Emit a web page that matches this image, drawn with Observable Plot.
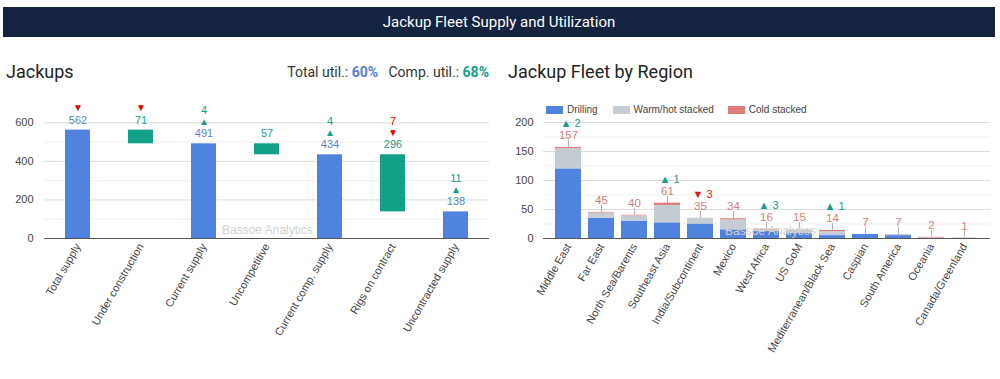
<!DOCTYPE html>
<html><head><meta charset="utf-8">
<script src="https://cdn.jsdelivr.net/npm/d3@7"></script>
<script src="https://cdn.jsdelivr.net/npm/@observablehq/plot@0.6"></script>
<style>
body{margin:0;width:1000px;height:379px;background:#fff;position:relative;overflow:hidden;font-family:Roboto,"Liberation Sans",Arial,sans-serif;}
.abs{position:absolute;}
#banner{left:3px;top:7px;width:992px;height:30px;background:#14233f;color:#fff;font-size:15px;text-align:center;line-height:30px;}
.title{font-size:18px;color:#222;}
#util{font-size:14px;color:#333;right:511px;top:64px;white-space:nowrap;}
.leg{font-family:"Liberation Sans",Arial,sans-serif;font-size:10px;color:#444;top:104px;display:flex;align-items:center;white-space:nowrap;}
.sw{display:inline-block;width:17px;height:8px;margin-right:4px;}
.wm{font-family:"Liberation Sans",Arial,sans-serif;font-size:12px;color:#d0d0d0;white-space:nowrap;}
</style></head>
<body>
<div id="banner" class="abs">Jackup Fleet Supply and Utilization</div>
<div class="abs title" style="left:6px;top:61px;">Jackups</div>
<div id="util" class="abs">Total util.: <b style="color:#4f80d9">60%</b>&nbsp;&nbsp;&nbsp;Comp. util.: <b style="color:#14a088">68%</b></div>
<div class="abs title" style="left:508px;top:61px;">Jackup Fleet by Region</div>
<div id="left" class="abs" style="left:0;top:90px;"></div>
<div id="right" class="abs" style="left:500px;top:90px;"></div>
<div class="abs leg" style="left:546px;">
 <span class="sw" style="background:#5083df"></span><span style="margin-right:15px">Drilling</span>
 <span class="sw" style="background:#c6ccd4"></span><span style="margin-right:14px">Warm/hot stacked</span>
 <span class="sw" style="background:#e07b7b"></span><span>Cold stacked</span>
</div>
<div class="abs wm" style="left:222px;top:223px;">Bassoe Analytics</div>
<div class="abs wm" style="left:725px;top:224px;">Bassoe Analytics</div>
<script>
// ---- Left chart data ----
const supplyCats = ["Total supply","Under construction","Current supply","Uncompetitive","Current comp. supply","Rigs on contract","Uncontracted supply"];
const supplyLow  = [0, 491, 0, 434, 0, 138, 0];
const supplyHigh = [562, 562, 491, 491, 434, 434, 138];
const supplyValues = [562, 71, 491, 57, 434, 296, 138];
const supplyKind = ["total","change","total","change","total","change","total"];
const supplyDeltaDir = ["down","down","up",null,"up","down","up"];
const supplyDeltaVal = ["","","4","","4","7","11"];

// ---- Right chart data ----
const regions = ["Middle East","Far East","North Sea/Barents","Southeast Asia","India/Subcontinent","Mexico","West Africa","US GoM","Mediterranean/Black Sea","Caspian","South America","Oceania","Canada/Greenland"];
const drilling = [120, 35, 30, 27, 25, 15, 12, 9, 5, 7, 5, 0, 0];
const warmHot  = [35, 9, 9, 30, 10, 17, 3, 6, 7, 0, 2, 1, 1];
const coldStacked = [2, 1, 1, 4, 0, 2, 1, 0, 2, 0, 0, 1, 0];
const regionTotals = [157, 45, 40, 61, 35, 34, 16, 15, 14, 7, 7, 2, 1];
const regionDeltaDir = ["up",null,null,"up","down",null,"up",null,"up",null,null,null,null];
const regionDeltaVal = [2,null,null,1,3,null,3,null,1,null,null,null,null];
const seriesNames = ["Drilling","Warm/hot stacked","Cold stacked"];

const BLUE = "#5083df", TEAL = "#12a088", RED = "#e00000", SALMON = "#d47c7c";
const axisStyle = {fontFamily:"'Liberation Sans', Arial, sans-serif", fontSize:"11px", color:"#444", background:"transparent", overflow:"visible"};

const supplyRows = supplyCats.map((c,i)=>({cat:c, low:supplyLow[i], high:supplyHigh[i], value:supplyValues[i], kind:supplyKind[i], dir:supplyDeltaDir[i], dval:supplyDeltaVal[i]}));

const left = Plot.plot({
  width: 495, height: 280, marginTop: 13, marginBottom: 132, marginLeft: 44, marginRight: 6,
  style: axisStyle,
  x: {domain: supplyCats, paddingInner: 0.6, paddingOuter: 0.3, label: null, tickSize: 0, tickRotate: -60, tickPadding: 6},
  y: {domain: [0, 700], ticks: [0,200,400,600], label: null, tickSize: 0, tickPadding: 11},
  marks: [
    Plot.ruleY([100,300,500], {stroke:"#efefef"}),
    Plot.ruleY([200,400,600], {stroke:"#dcdcdc"}),
    Plot.barY(supplyRows.filter(d=>d.kind==="total"), {x:"cat", y1:"low", y2:"high", fill: BLUE}),
    Plot.barY(supplyRows.filter(d=>d.kind==="change"), {x:"cat", y1:"low", y2:"high", fill: TEAL}),
    Plot.ruleY([0], {stroke:"#555"}),
    Plot.text(supplyRows, {x:"cat", y:"high", text: d=>String(d.value), dy:-10, fontSize:11, fill: d=>d.kind==="total" ? "#5a84d0" : "#1a9c86"}),
    Plot.text(supplyRows.filter(d=>d.dir), {x:"cat", y:"high", text: d=>d.dir==="up"?"▲":"▼", dy:-22, fontSize:10, fill: d=>d.dir==="up"? TEAL : RED}),
    Plot.text(supplyRows.filter(d=>d.dval), {x:"cat", y:"high", text:"dval", dy:-33, fontSize:11, fill: d=>d.dir==="up"? TEAL : RED})
  ]
});
document.getElementById("left").append(left);

const longRows = [];
regions.forEach((r,i)=>{
  longRows.push({region:r, series:"Drilling", value:drilling[i]});
  longRows.push({region:r, series:"Warm/hot stacked", value:warmHot[i]});
  longRows.push({region:r, series:"Cold stacked", value:coldStacked[i]});
});
const totalRows = regions.map((r,i)=>({region:r, total:regionTotals[i], dir:regionDeltaDir[i], dval:regionDeltaVal[i]}));

const right = Plot.plot({
  width: 500, height: 280, marginTop: 32, marginBottom: 132, marginLeft: 43, marginRight: 10,
  style: axisStyle,
  x: {domain: regions, padding: 0.2, label: null, tickSize: 0, tickRotate: -60, tickPadding: 6},
  y: {domain: [0, 200], ticks: [0,50,100,150,200], label: null, tickSize: 0, tickPadding: 10},
  color: {domain: seriesNames, range: [BLUE, "#c6ccd4", "#e07b7b"]},
  marks: [
    Plot.ruleY([25,75,125,175], {stroke:"#efefef"}),
    Plot.ruleY([50,100,150,200], {stroke:"#dcdcdc"}),
    Plot.barY(longRows, {x:"region", y:"value", fill:"series", order: seriesNames}),
    Plot.ruleY([0], {stroke:"#555"}),
    Plot.ruleX(totalRows, {x:"region", y1:"total", y2:"total", insetTop:-7, stroke:"#b0b0b0"}),
    Plot.text(totalRows, {x:"region", y:"total", text: d=>String(d.total), dy:-12, fontSize:11.5, fill: SALMON}),
    Plot.text(totalRows.filter(d=>d.dir), {x:"region", y:"total", text: d=>(d.dir==="up"?"▲ ":"▼ ")+d.dval, dx:2, dy:-24, fontSize:11, fill: d=>d.dir==="up"? TEAL : "#d42020"})
  ]
});
document.getElementById("right").append(right);
</script>
</body></html>
